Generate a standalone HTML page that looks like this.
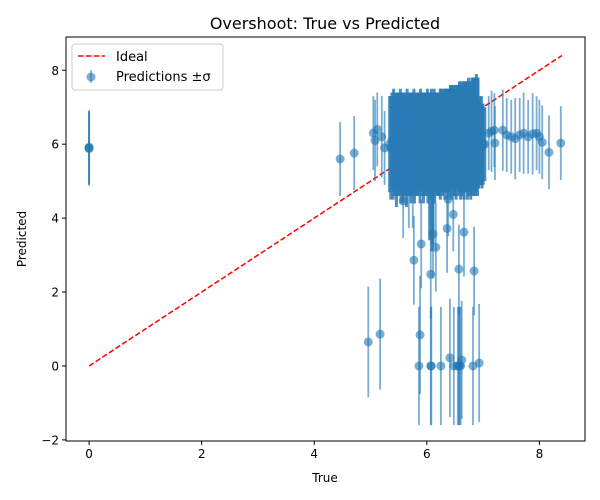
<!DOCTYPE html>
<html><head><meta charset="utf-8">
<style>
body{margin:0;background:#fff;}
svg{display:block;font-family:"DejaVu Sans","Liberation Sans",sans-serif;}
</style></head>
<body>
<svg id="chart" width="600" height="500" viewBox="0 0 600 500">
<rect width="600" height="500" fill="#fff"/>
<text x="325" y="29" text-anchor="middle" font-size="16">Overshoot: True vs Predicted</text>
<g id="plot"></g>
<g id="axes"></g>
<text x="325" y="482" text-anchor="middle" font-size="12">True</text>
<text transform="translate(26,239) rotate(-90)" text-anchor="middle" font-size="12">Predicted</text>
<g>
<rect x="72" y="44" width="151" height="46" rx="3" fill="#fff" fill-opacity="0.8" stroke="#ccc"/>
<line x1="78" y1="56" x2="105" y2="56" stroke="red" stroke-width="1.5" stroke-dasharray="5.5,2.4"/>
<text x="116" y="61" font-size="13">Ideal</text>
<line x1="91" y1="70" x2="91" y2="83" stroke="#1f77b4" stroke-opacity="0.6" stroke-width="1.5"/>
<circle cx="91" cy="77" r="4.5" fill="#1f77b4" fill-opacity="0.6"/>
<text x="116" y="81" font-size="13">Predictions ±σ</text>
</g>
</svg>
<script>
const xTicks=[0,2,4,6,8];
const yTicks=[-2,0,2,4,6,8];
const trueVals=[0,0,0,4.46,4.71,4.96,5.17,5.05,5.08,5.12,5.2,5.25,
7.1,7.15,7.2,7.21,7.35,7.42,7.5,7.57,7.65,7.72,7.8,7.88,7.95,8.0,8.05,8.17,8.38,
5.58,5.68,5.75,6.38,6.47,5.77,5.9,6.07,6.16,6.11,6.36,6.66,6.57,6.84,
5.88,5.86,6.07,6.08,6.25,6.41,6.48,6.57,6.6,6.62,6.82,6.93,6.55,6.58];
const predVals=[5.9,5.92,5.88,5.6,5.76,0.65,0.86,6.3,6.1,6.4,6.2,5.9,
6.3,6.35,6.38,6.03,6.38,6.25,6.2,6.15,6.25,6.3,6.2,6.28,6.3,6.2,6.05,5.78,6.03,
4.46,4.73,4.73,4.51,4.1,2.86,3.3,2.48,3.21,3.57,3.72,3.62,2.62,2.57,
0.84,0,0,0,0,0.22,0,0,0,0.16,0,0.08,0,0];
const sigmaVals=[1.0,1.0,1.0,1.0,1.0,1.5,1.5,1.0,1.1,1.0,1.1,1.0,
1.0,1.1,1.0,1.0,1.1,1.0,1.0,1.1,1.0,1.1,1.0,1.1,1.0,1.0,1.0,1.0,1.0,
1.0,1.0,1.0,1.0,1.0,1.2,1.2,1.2,1.2,1.2,1.2,1.2,1.2,1.2,
1.6,1.6,1.6,1.6,1.6,1.6,1.6,1.6,1.6,1.6,1.6,1.6,1.6,1.6];
const denseTrue=[5.34,5.36,5.38,5.4,5.42,5.44,5.46,5.48,5.5,5.52,5.54,5.56,5.58,5.6,5.62,5.64,5.66,5.68,5.7,5.72,5.74,5.76,5.78,5.8,5.82,5.84,5.86,5.88,5.9,5.92,5.94,5.96,5.98,6.0,6.02,6.04,6.06,6.08,6.1,6.12,6.14,6.16,6.18,6.2,6.22,6.24,6.26,6.28,6.3,6.32,6.34,6.36,6.38,6.4,6.42,6.44,6.46,6.48,6.5,6.52,6.54,6.56,6.58,6.6,6.62,6.64,6.66,6.68,6.7,6.72,6.74,6.76,6.78,6.8,6.82,6.84,6.86,6.88,6.9,6.92,6.94,6.96,6.98,7.0,7.03,
5.41,5.47,5.53,5.59,5.65,5.71,5.77,5.83,5.89,5.95,6.01,6.07,6.13,6.19,6.25,6.31,6.37,6.43,6.49,6.55,6.61,6.67,6.73,6.79,6.85,6.91,6.97,6.09,6.11,6.05];
const densePred=[6.0,5.9,6.1,5.9,6.0,6.1,5.8,6.0,6.0,6.1,5.9,6.0,5.9,6.1,6.0,5.8,6.1,6.0,6.0,5.9,6.1,6.0,5.9,6.1,6.0,6.0,6.1,5.9,6.0,6.1,5.9,6.0,6.1,6.0,5.9,6.1,6.0,6.0,6.1,6.0,5.9,6.1,6.0,6.1,6.0,6.0,6.1,6.0,6.1,6.0,6.1,6.1,6.0,6.1,6.1,6.0,6.2,6.1,6.1,6.0,6.2,6.1,6.2,6.1,6.1,6.2,6.1,6.2,6.2,6.1,6.2,6.2,6.1,6.2,6.3,6.2,6.2,6.3,6.2,6.0,6.1,6.0,5.9,6.0,6.0,
6.1,6.0,6.1,6.0,6.1,6.0,6.1,6.0,6.1,6.0,6.1,6.0,6.1,6.0,6.1,6.1,6.1,6.2,6.1,6.2,6.2,6.2,6.2,6.2,6.3,6.3,6.1,5.2,5.3,5.4];
const denseSigma=[1.3,1.4,1.3,1.4,1.4,1.3,1.5,1.4,1.4,1.3,1.5,1.4,1.5,1.3,1.4,1.5,1.3,1.4,1.4,1.5,1.3,1.4,1.5,1.3,1.4,1.4,1.3,1.5,1.4,1.3,1.5,1.4,1.3,1.4,1.5,1.3,1.4,1.5,1.3,1.4,1.5,1.3,1.4,1.3,1.4,1.5,1.4,1.4,1.3,1.5,1.4,1.4,1.5,1.4,1.5,1.5,1.4,1.5,1.5,1.5,1.4,1.5,1.5,1.6,1.5,1.5,1.6,1.5,1.5,1.6,1.6,1.5,1.6,1.6,1.5,1.6,1.6,1.6,1.6,1.2,1.2,1.1,1.1,1.1,1.0,
1.4,1.4,1.4,1.4,1.4,1.4,1.4,1.4,1.4,1.4,1.4,1.4,1.4,1.4,1.4,1.4,1.4,1.4,1.4,1.4,1.4,1.5,1.5,1.5,1.5,1.5,1.2,2.1,2.0,2.0];
const idealVals=[0,8.4];

const L=66,R=585,T=37,B=441;
const xmin=-0.41,xmax=8.81,ymin=-2.03,ymax=8.9;
const sx=v=>L+(v-xmin)/(xmax-xmin)*(R-L);
const sy=v=>B-(v-ymin)/(ymax-ymin)*(B-T);
const NS="http://www.w3.org/2000/svg";
const plot=document.getElementById('plot');
const axes=document.getElementById('axes');
function mk(tag,attrs,parent){const e=document.createElementNS(NS,tag);for(const k in attrs)e.setAttribute(k,attrs[k]);parent.appendChild(e);return e;}

const clip=mk('clipPath',{id:'cp'},plot);
mk('rect',{x:L,y:T,width:R-L,height:B-T},clip);
const g=mk('g',{'clip-path':'url(#cp)'},plot);

const ideal=mk('line',{x1:sx(idealVals[0]),y1:sy(idealVals[0]),x2:sx(idealVals[1]),y2:sy(idealVals[1]),stroke:'red','stroke-width':1.5,'stroke-dasharray':'5.5,2.4'},g);



for(let i=0;i<trueVals.length;i++){
  const eb=mk('line',{x1:sx(trueVals[i]),x2:sx(trueVals[i]),y1:sy(predVals[i]-sigmaVals[i]),y2:sy(predVals[i]+sigmaVals[i]),stroke:'#1f77b4','stroke-opacity':0.6,'stroke-width':1.8},g);
  
  
}
for(let i=0;i<trueVals.length;i++){
  const c=mk('circle',{cx:sx(trueVals[i]),cy:sy(predVals[i]),r:4.5,fill:'#1f77b4','fill-opacity':0.6},g);
  
  
}
for(let i=0;i<denseTrue.length;i++){
  const c=mk('circle',{cx:sx(denseTrue[i]),cy:sy(densePred[i]),r:4.5,fill:'#1f77b4','fill-opacity':0.6},g);
  
  
}
for(let i=0;i<denseTrue.length;i++){
  const eb=mk('line',{x1:sx(denseTrue[i]),x2:sx(denseTrue[i]),y1:sy(densePred[i]-denseSigma[i]),y2:sy(densePred[i]+denseSigma[i]),stroke:'#2a7ab5','stroke-opacity':0.85,'stroke-width':3},g);
  
  
}

const frame=mk('rect',{x:L,y:T,width:R-L,height:B-T,fill:'none',stroke:'#000','stroke-width':1},axes);


xTicks.forEach(v=>{
  const x=sx(v);
  const t=mk('line',{x1:x,x2:x,y1:B,y2:B+4,stroke:'#000'},axes);
  
  
  const l=mk('text',{x:x,y:B+17,'text-anchor':'middle','font-size':12},axes);
  l.textContent=String(v);
  
  
});
yTicks.forEach(v=>{
  const y=sy(v);
  const t=mk('line',{x1:L-4,x2:L,y1:y,y2:y,stroke:'#000'},axes);
  
  
  const l=mk('text',{x:L-7,y:y+4.5,'text-anchor':'end','font-size':12},axes);
  l.textContent=v<0?'\u2212'+Math.abs(v):String(v);
  
  
});
</script>
</body></html>
